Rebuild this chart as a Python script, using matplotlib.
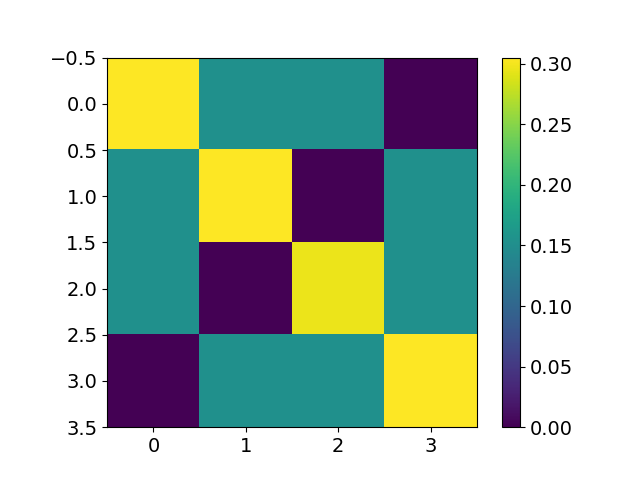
import numpy as np
import matplotlib
matplotlib.use("Agg")
import matplotlib.pyplot as plt

plt.rcParams['font.size'] = 14

fila0 = [0.305, 0.1525, 0.1525, 0.0]
fila1 = [0.1525, 0.305, 0.0, 0.1525]
fila2 = [0.1525, 0.0, 0.296, 0.1525]
fila3 = [0.0, 0.1525, 0.1525, 0.305]

matriz = np.array([fila0, fila1, fila2, fila3])

fig = plt.figure(figsize=(6.4, 4.8), dpi=100)
im = plt.imshow(matriz, cmap='viridis')
plt.colorbar(im)
plt.xticks([0, 1, 2, 3])
plt.savefig("out.png")
